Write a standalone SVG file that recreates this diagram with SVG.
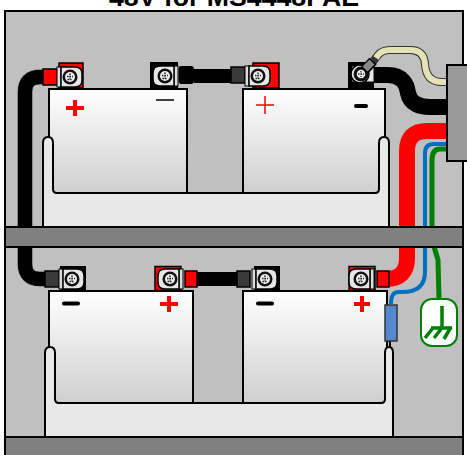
<svg xmlns="http://www.w3.org/2000/svg" xmlns:xlink="http://www.w3.org/1999/xlink" width="467" height="455" viewBox="0 0 467 455">
<style>
.title{font-family:"Liberation Sans",Arial,sans-serif;font-weight:bold;font-size:26.700px;fill:#000}
.bat{fill:url(#bg)}
.batl{fill:none;stroke:#000;stroke-width:2}
.tray{fill:#e8e8e8;stroke:#000;stroke-width:2;stroke-linejoin:round}
.shelf{fill:#808080;stroke:#000;stroke-width:2}
.bk{fill:none;stroke:#000;stroke-width:14}
.bko{fill:none;stroke:#555;stroke-width:15}
.lug{fill:#e6e6e6;stroke:#000;stroke-width:1.500}
.sl{fill:#3a3a3a;stroke:#000;stroke-width:1.500}
.slr{fill:#f00;stroke:#000;stroke-width:1.500}
.collar{fill:#ddd;stroke:#000;stroke-width:1}
.postb{fill:#000;stroke:#000}
.postr{fill:#f00;stroke:#000;stroke-width:1.500}
.sr{stroke:#f00;stroke-width:4;fill:none}
.sb{stroke:#000;stroke-width:4;fill:none;stroke-linecap:round}
</style>
<defs>
<linearGradient id="bg" x1="0" y1="0" x2="0" y2="1"><stop offset="0" stop-color="#fff"/><stop offset="1" stop-color="#cfcfcf"/></linearGradient>
<g id="bolt"><circle r="7.500" fill="#111"/><circle r="5" fill="#eee"/><path d="M-3-0.500h6M0-3.500v6M-2.500 2.500h5" stroke="#222" stroke-width="1.500" stroke-dasharray="1.500 1" fill="none"/></g>
<g id="lugR"><rect x="-13" y="-10" width="4" height="20" class="collar"/><path d="M-9-10H5Q12-10 12-3V3Q12 10 5 10H-9Z" class="lug"/><use xlink:href="#bolt"/></g>
<g id="lugL"><rect x="9" y="-10" width="4" height="20" class="collar"/><path d="M9-10H-5Q-12-10-12-3V3Q-12 10-5 10H9Z" class="lug"/><use xlink:href="#bolt"/></g>
</defs>
<rect width="467" height="455" fill="#fff"/>
<text class="title" x="234" y="6" text-anchor="middle">48V for MS4448PAE</text>
<rect x="5" y="11" width="458" height="450" fill="#c0c0c0" stroke="#000" stroke-width="2"/>

<g id="connectors">
<path d="M44 77H40Q25 77 25 92V264Q25 279 40 279H46" class="bko"/>
<path d="M44 77H40Q25 77 25 92V264Q25 279 40 279H46" class="bk"/>
<path d="M194 76H232" class="bk"/>
<path d="M197 279H238" class="bk"/>
<path d="M447 131H427Q407 131 407 151V258Q407 279 386 279" fill="none" stroke="#f00" stroke-width="16"/>
<path d="M372 75H388C402 75 407 84 408 93C410 104 420 107 430 107H448" fill="none" stroke="#000" stroke-width="16"/>
<path d="M447 144H434Q425 144 425 153V272Q425 292 402 292H398Q391 292 391 304" fill="none" stroke="#0070c0" stroke-width="4"/>
<path d="M447 149H440Q432 149 432 160V240L438 260L439 299" fill="none" stroke="#008000" stroke-width="5"/>
</g>

<g id="battery-1"><rect x="49" y="89" width="138" height="104" class="bat"/><path d="M49 193V89H187V193" class="batl"/><path d="M66 108H84M75 100V116" class="sr"/><path d="M156 100H174" stroke="#000" stroke-width="1.500"/></g>
<g id="battery-2"><rect x="243" y="89" width="142" height="104" class="bat"/><path d="M243 193V89H385V137" class="batl"/><path d="M256 105H274M265 96V114" stroke="#f00" stroke-width="1.500"/><path d="M356 106H366" class="sb"/></g>
<g id="battery-3"><rect x="49" y="291" width="144" height="112" class="bat"/><path d="M49 403V291H193V403" class="batl"/><path d="M64 303.500H78" class="sb"/><path d="M160 304H178M169 296V312" class="sr"/></g>
<g id="battery-4"><rect x="243" y="291" width="144" height="112" class="bat"/><path d="M243 403V291H387V347" class="batl"/><path d="M258 303.500H272" class="sb"/><path d="M354 304H370M362 296V312" class="sr"/></g>

<g id="tray-top"><path d="M43 228V143Q43 137 48 137Q53 137 53 143V189Q53 193 57 193H375Q379 193 379 189V143Q379 137 384 137Q389 137 389 143V228Z" class="tray"/></g>
<g id="tray-bottom"><path d="M45 438V353Q45 347 50 347Q55 347 55 353V399Q55 403 59 403H381Q385 403 385 399V353Q385 347 389 347Q393 347 393 353V438Z" class="tray"/></g>

<rect x="5" y="227" width="458" height="20" class="shelf"/>
<rect x="5" y="437" width="458" height="20" class="shelf"/>

<g id="terminal-1"><rect x="59" y="63" width="24" height="25" class="postr"/><rect x="43" y="69" width="14.500" height="16" class="slr"/><use xlink:href="#lugR" x="70" y="77"/></g>
<g id="terminal-2"><rect x="150.500" y="62.500" width="27" height="26" class="postb"/><rect x="179" y="66.500" width="14.500" height="17" rx="2" fill="#000" stroke="#000"/><use xlink:href="#lugL" x="165" y="76"/></g>
<g id="terminal-3"><rect x="253" y="63" width="26" height="25" class="postr"/><rect x="231" y="67" width="14" height="16" class="sl"/><use xlink:href="#lugR" x="258" y="76"/></g>
<g id="terminal-4"><rect x="348.500" y="62.500" width="25" height="26" class="postb"/><path d="M352 66H374V82H352Z" fill="#e6e6e6" stroke="#000"/><circle cx="360" cy="74" r="9" fill="#eee" stroke="#000" stroke-width="1.500"/><use xlink:href="#bolt" x="361" y="74"/></g>
<g id="terminal-5"><rect x="60.500" y="266.500" width="25" height="24" class="postb"/><rect x="45" y="271" width="14.500" height="16" class="sl"/><use xlink:href="#lugR" x="72" y="279"/></g>
<g id="terminal-6"><rect x="155" y="266.500" width="26" height="24" class="postr"/><rect x="185" y="271" width="12" height="16" class="slr"/><use xlink:href="#lugL" x="170" y="279"/></g>
<g id="terminal-7"><rect x="254.500" y="266.500" width="25" height="24" class="postb"/><rect x="237" y="271" width="13" height="16" class="sl"/><use xlink:href="#lugR" x="265" y="279"/></g>
<g id="terminal-8"><rect x="349" y="266.500" width="26" height="24" class="postr"/><rect x="377" y="271" width="12" height="16" class="slr"/><use xlink:href="#lugL" x="361" y="279"/></g>

<g id="cream-wire">
<path d="M372 63L378 55Q382 50 390 50H410Q424 50 425 64Q426 82 442 82H447" fill="none" stroke="#333" stroke-width="8"/>
<path d="M376 58L378 55Q382 50 390 50H410Q424 50 425 64Q426 82 442 82H447" fill="none" stroke="#e5e3b5" stroke-width="6"/>
<path d="M363 72L373 61" stroke="#000" stroke-width="10"/>
<path d="M365 69L372 62" stroke="#888" stroke-width="7"/>
<circle cx="361" cy="74" r="5" fill="#eee" stroke="#111" stroke-width="1.500"/><path d="M358 74h6M361 71v6" stroke="#333" stroke-width="1.300" stroke-dasharray="1.500 1"/>
</g>

<g id="fuse"><path d="M390 341V347" stroke="#000" stroke-width="2"/><rect x="385" y="305" width="12" height="36" fill="#5588d0" stroke="#333" stroke-width="1.500"/></g>
<g id="ground"><rect x="421" y="299" width="36" height="47" rx="11" fill="#fff" stroke="#008000" stroke-width="2"/><path d="M442 306V328M431 328H452M433 328L425 338M442 328L434 338M451 327L444 339" fill="none" stroke="#008000" stroke-width="3.500"/></g>
<g id="inverter"><rect x="447" y="65" width="24" height="96" fill="#999" stroke="#000" stroke-width="2"/></g>
</svg>
